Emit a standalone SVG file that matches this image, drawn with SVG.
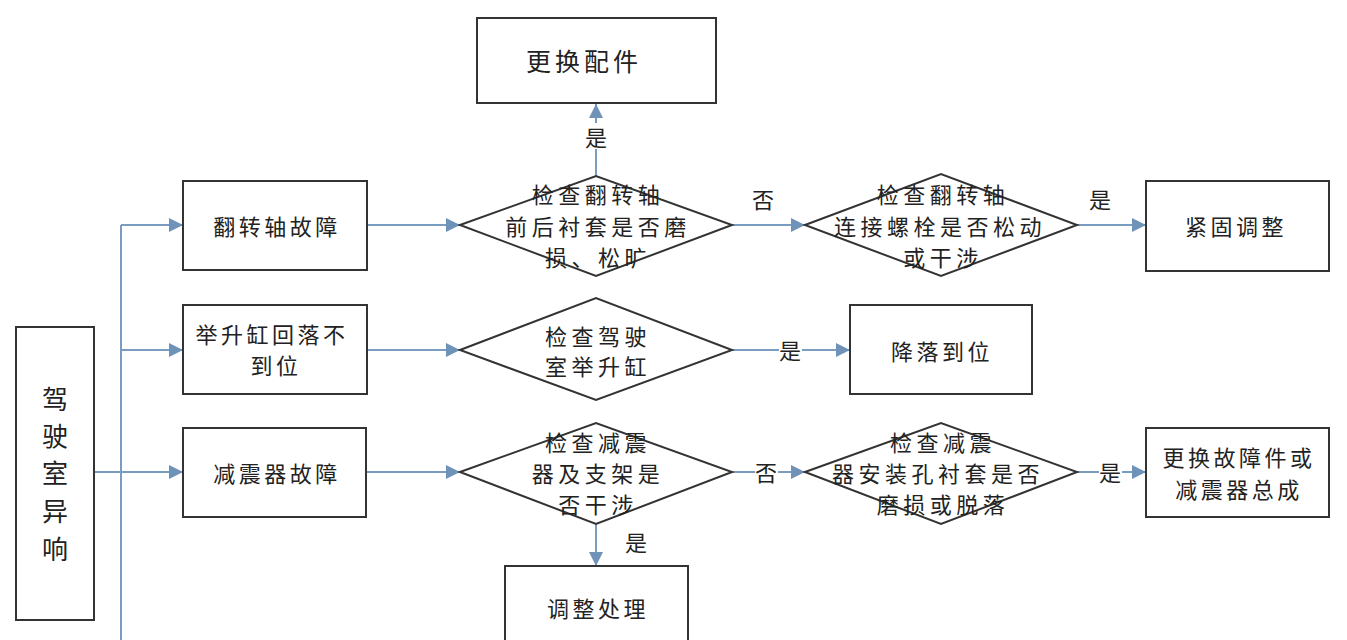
<svg xmlns="http://www.w3.org/2000/svg" width="1347" height="640" viewBox="0 0 1347 640">
<defs>
<marker id="ah2" viewBox="0 0 10 10" refX="10" refY="5" markerWidth="14" markerHeight="14" markerUnits="userSpaceOnUse" orient="auto">
<path d="M0,0 L10,5 L0,10 z" fill="#6f93b8"/>
</marker>
</defs>
<style>
.box{fill:#fff;stroke:#333;stroke-width:2}
.dia{fill:#fff;stroke:#333;stroke-width:2}
.t{font-family:"Noto Sans CJK SC","Liberation Sans",sans-serif;font-size:22px;letter-spacing:3.5px;fill:#222;text-anchor:middle;dominant-baseline:central}
.d{font-family:"Noto Sans CJK SC","Liberation Sans",sans-serif;font-size:22px;letter-spacing:4.5px;fill:#222;text-anchor:middle;dominant-baseline:central}
.c{fill:none;stroke:#7a9cc0;stroke-width:2}
.lbl{font-family:"Noto Sans CJK SC","Liberation Sans",sans-serif;font-size:22px;fill:#222;text-anchor:middle;dominant-baseline:central}
</style>
<rect width="1347" height="640" fill="#fff"/>
<g id="connectors">
<path class="c" d="M121,225 L121,640"/>
<path class="c" d="M94,472 L183,472" marker-end="url(#ah2)"/>
<path class="c" d="M121,225 L183,225" marker-end="url(#ah2)"/>
<path class="c" d="M121,350 L183,350" marker-end="url(#ah2)"/>
<path class="c" d="M367,225 L460,225" marker-end="url(#ah2)"/>
<path class="c" d="M367,350 L460,350" marker-end="url(#ah2)"/>
<path class="c" d="M366,472 L460,472" marker-end="url(#ah2)"/>
<path class="c" d="M596,176 L596,104" marker-end="url(#ah2)"/>
<path class="c" d="M732,225 L805,225" marker-end="url(#ah2)"/>
<path class="c" d="M1077,225 L1146,225" marker-end="url(#ah2)"/>
<path class="c" d="M732,350 L850,350" marker-end="url(#ah2)"/>
<path class="c" d="M732,472 L805,472" marker-end="url(#ah2)"/>
<path class="c" d="M1077,472 L1146,472" marker-end="url(#ah2)"/>
<path class="c" d="M596,524 L596,566" marker-end="url(#ah2)"/>
<rect x="585" y="123" width="22" height="26" fill="#fff"/>
<text class="lbl" x="596" y="136">是</text>
<text class="lbl" x="763" y="198">否</text>
<text class="lbl" x="1100" y="198">是</text>
<rect x="779" y="337" width="23" height="26" fill="#fff"/>
<text class="lbl" x="790" y="349">是</text>
<rect x="755" y="459" width="23" height="26" fill="#fff"/>
<text class="lbl" x="766" y="471">否</text>
<rect x="1099" y="459" width="23" height="26" fill="#fff"/>
<text class="lbl" x="1110" y="471">是</text>
<text class="lbl" x="636" y="541">是</text>
</g>
<g id="n_start">
<rect class="box" x="16" y="327" width="78" height="293"/>
<text class="lbl" style="font-size:26px" x="55" y="397">驾</text>
<text class="lbl" style="font-size:26px" x="55" y="434">驶</text>
<text class="lbl" style="font-size:26px" x="55" y="471">室</text>
<text class="lbl" style="font-size:26px" x="55" y="509">异</text>
<text class="lbl" style="font-size:26px" x="55" y="547">响</text>
</g>
<g id="n_fz"><rect class="box" x="183" y="181" width="184" height="89"/><text class="t" x="277" y="225">翻转轴故障</text></g>
<g id="n_js"><rect class="box" x="183" y="305" width="184" height="89"/><text class="t" x="272" y="333">举升缸回落不</text><text class="t" x="276" y="364">到位</text></g>
<g id="n_jz"><rect class="box" x="183" y="428" width="183" height="89"/><text class="t" x="277" y="472">减震器故障</text></g>
<g id="n_ghpj"><rect class="box" x="477" y="18" width="239" height="85"/><text class="t" style="font-size:25px;letter-spacing:4px" x="584" y="60">更换配件</text></g>
<g id="d1"><polygon class="dia" points="460,225 596,176 732,225 596,276"/><text class="d" x="598" y="193">检查翻转轴</text><text class="d" x="598" y="225">前后衬套是否磨</text><text class="d" x="598" y="256">损、松旷</text></g>
<g id="d2"><polygon class="dia" points="805,225 941,174 1077,225 941,276"/><text class="d" x="943" y="193">检查翻转轴</text><text class="d" x="940" y="225">连接螺栓是否松动</text><text class="d" x="943" y="256">或干涉</text></g>
<g id="n_jg"><rect class="box" x="1146" y="181" width="183" height="90"/><text class="t" x="1236" y="225">紧固调整</text></g>
<g id="d3"><polygon class="dia" points="460,350 596,298 732,350 596,400"/><text class="d" x="598" y="335">检查驾驶</text><text class="d" x="598" y="365">室举升缸</text></g>
<g id="n_jl"><rect class="box" x="850" y="305" width="182" height="89"/><text class="t" x="942" y="350">降落到位</text></g>
<g id="d4"><polygon class="dia" points="460,472 596,423 732,472 596,524"/><text class="d" x="598" y="441">检查减震</text><text class="d" x="598" y="472">器及支架是</text><text class="d" x="598" y="503">否干涉</text></g>
<g id="d5"><polygon class="dia" points="805,472 941,423 1077,472 941,524"/><text class="d" x="943" y="441">检查减震</text><text class="d" x="938" y="472">器安装孔衬套是否</text><text class="d" x="943" y="503">磨损或脱落</text></g>
<g id="n_gh"><rect class="box" x="1146" y="428" width="183" height="89"/><text class="t" x="1239" y="456">更换故障件或</text><text class="t" x="1239" y="488">减震器总成</text></g>
<g id="n_tz"><rect class="box" x="505" y="566" width="183" height="90"/><text class="t" x="598" y="607">调整处理</text></g>
</svg>
